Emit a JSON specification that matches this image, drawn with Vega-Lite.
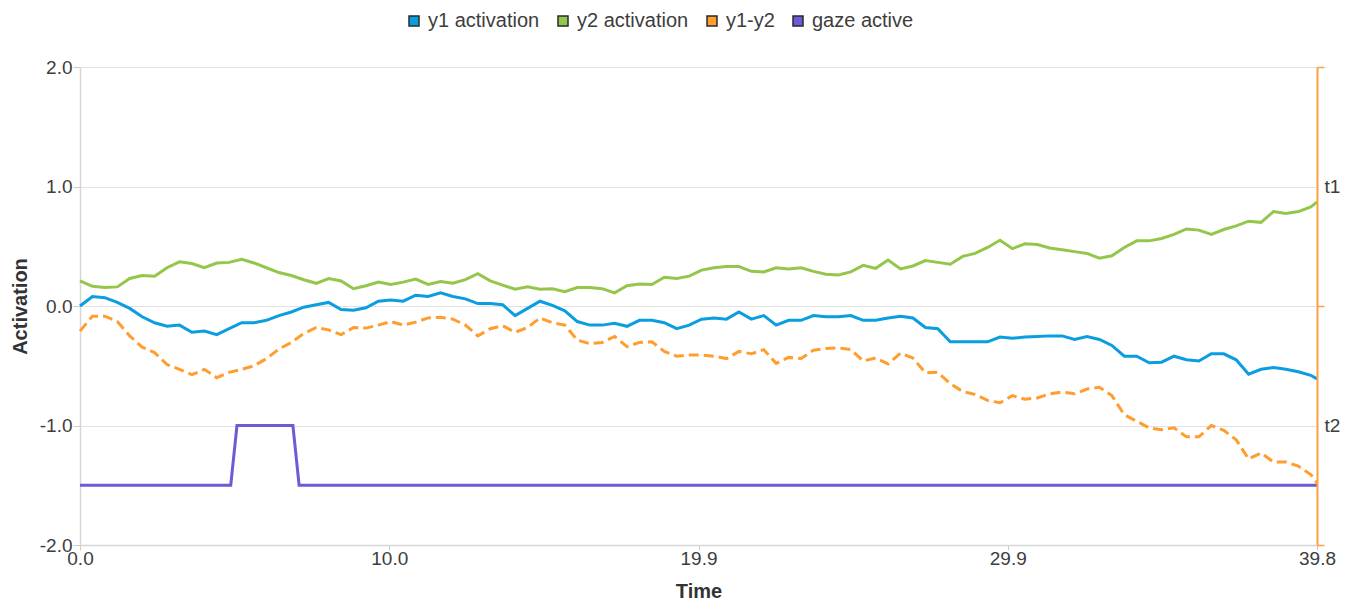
{
  "$schema": "https://vega.github.io/schema/vega-lite/v6.json",
  "width": 1237,
  "height": 478,
  "autosize": {"type": "none"},
  "padding": {"left": 80, "top": 67, "right": 41, "bottom": 61},
  "background": "white",
  "config": {
    "view": {"stroke": null},
    "font": "Liberation Sans",
    "axis": {
      "labelFont": "Liberation Sans",
      "labelFontSize": 19,
      "labelColor": "#3d3d3d",
      "titleFont": "Liberation Sans",
      "titleFontSize": 20,
      "titleFontWeight": "bold",
      "titleColor": "#333333",
      "domainColor": "#d6d6d6",
      "domainWidth": 1.5,
      "tickColor": "#cccccc",
      "gridColor": "#e2e2e2",
      "gridWidth": 1
    }
  },
  "datasets": {
    "act": [
      {"t":0,"y1 activation":0.0,"y2 activation":0.21,"y1-y2":-0.21},
      {"t":0.4,"y1 activation":0.08,"y2 activation":0.165,"y1-y2":-0.085},
      {"t":0.8,"y1 activation":0.07,"y2 activation":0.155,"y1-y2":-0.085},
      {"t":1.2,"y1 activation":0.03,"y2 activation":0.16,"y1-y2":-0.13},
      {"t":1.6,"y1 activation":-0.02,"y2 activation":0.23,"y1-y2":-0.25},
      {"t":2.0,"y1 activation":-0.09,"y2 activation":0.255,"y1-y2":-0.345},
      {"t":2.4,"y1 activation":-0.14,"y2 activation":0.25,"y1-y2":-0.39},
      {"t":2.8,"y1 activation":-0.17,"y2 activation":0.32,"y1-y2":-0.49},
      {"t":3.2,"y1 activation":-0.16,"y2 activation":0.37,"y1-y2":-0.53},
      {"t":3.6,"y1 activation":-0.22,"y2 activation":0.355,"y1-y2":-0.575},
      {"t":4.0,"y1 activation":-0.21,"y2 activation":0.32,"y1-y2":-0.53},
      {"t":4.4,"y1 activation":-0.24,"y2 activation":0.36,"y1-y2":-0.6},
      {"t":4.8,"y1 activation":-0.19,"y2 activation":0.365,"y1-y2":-0.555},
      {"t":5.2,"y1 activation":-0.14,"y2 activation":0.39,"y1-y2":-0.53},
      {"t":5.6,"y1 activation":-0.14,"y2 activation":0.36,"y1-y2":-0.5},
      {"t":6.0,"y1 activation":-0.12,"y2 activation":0.32,"y1-y2":-0.44},
      {"t":6.4,"y1 activation":-0.08,"y2 activation":0.28,"y1-y2":-0.36},
      {"t":6.8,"y1 activation":-0.05,"y2 activation":0.255,"y1-y2":-0.305},
      {"t":7.2,"y1 activation":-0.01,"y2 activation":0.22,"y1-y2":-0.23},
      {"t":7.6,"y1 activation":0.01,"y2 activation":0.19,"y1-y2":-0.18},
      {"t":8.0,"y1 activation":0.03,"y2 activation":0.23,"y1-y2":-0.2},
      {"t":8.4,"y1 activation":-0.03,"y2 activation":0.21,"y1-y2":-0.24},
      {"t":8.8,"y1 activation":-0.035,"y2 activation":0.145,"y1-y2":-0.18},
      {"t":9.2,"y1 activation":-0.015,"y2 activation":0.17,"y1-y2":-0.185},
      {"t":9.6,"y1 activation":0.04,"y2 activation":0.2,"y1-y2":-0.16},
      {"t":10.0,"y1 activation":0.05,"y2 activation":0.18,"y1-y2":-0.13},
      {"t":10.4,"y1 activation":0.04,"y2 activation":0.2,"y1-y2":-0.16},
      {"t":10.8,"y1 activation":0.09,"y2 activation":0.225,"y1-y2":-0.135},
      {"t":11.2,"y1 activation":0.08,"y2 activation":0.18,"y1-y2":-0.1},
      {"t":11.6,"y1 activation":0.11,"y2 activation":0.205,"y1-y2":-0.095},
      {"t":12.0,"y1 activation":0.08,"y2 activation":0.19,"y1-y2":-0.11},
      {"t":12.4,"y1 activation":0.06,"y2 activation":0.22,"y1-y2":-0.16},
      {"t":12.8,"y1 activation":0.02,"y2 activation":0.27,"y1-y2":-0.25},
      {"t":13.2,"y1 activation":0.02,"y2 activation":0.21,"y1-y2":-0.19},
      {"t":13.6,"y1 activation":0.01,"y2 activation":0.175,"y1-y2":-0.165},
      {"t":14.0,"y1 activation":-0.08,"y2 activation":0.14,"y1-y2":-0.22},
      {"t":14.4,"y1 activation":-0.02,"y2 activation":0.16,"y1-y2":-0.18},
      {"t":14.8,"y1 activation":0.04,"y2 activation":0.14,"y1-y2":-0.1},
      {"t":15.2,"y1 activation":0.005,"y2 activation":0.145,"y1-y2":-0.14},
      {"t":15.6,"y1 activation":-0.04,"y2 activation":0.12,"y1-y2":-0.16},
      {"t":16.0,"y1 activation":-0.13,"y2 activation":0.155,"y1-y2":-0.285},
      {"t":16.4,"y1 activation":-0.16,"y2 activation":0.155,"y1-y2":-0.315},
      {"t":16.8,"y1 activation":-0.16,"y2 activation":0.145,"y1-y2":-0.305},
      {"t":17.2,"y1 activation":-0.145,"y2 activation":0.11,"y1-y2":-0.255},
      {"t":17.6,"y1 activation":-0.17,"y2 activation":0.17,"y1-y2":-0.34},
      {"t":18.0,"y1 activation":-0.12,"y2 activation":0.185,"y1-y2":-0.305},
      {"t":18.4,"y1 activation":-0.12,"y2 activation":0.18,"y1-y2":-0.3},
      {"t":18.8,"y1 activation":-0.14,"y2 activation":0.24,"y1-y2":-0.38},
      {"t":19.2,"y1 activation":-0.19,"y2 activation":0.23,"y1-y2":-0.42},
      {"t":19.6,"y1 activation":-0.16,"y2 activation":0.25,"y1-y2":-0.41},
      {"t":20.0,"y1 activation":-0.11,"y2 activation":0.3,"y1-y2":-0.41},
      {"t":20.4,"y1 activation":-0.1,"y2 activation":0.32,"y1-y2":-0.42},
      {"t":20.8,"y1 activation":-0.11,"y2 activation":0.33,"y1-y2":-0.44},
      {"t":21.2,"y1 activation":-0.05,"y2 activation":0.33,"y1-y2":-0.38},
      {"t":21.6,"y1 activation":-0.11,"y2 activation":0.29,"y1-y2":-0.4},
      {"t":22.0,"y1 activation":-0.08,"y2 activation":0.285,"y1-y2":-0.365},
      {"t":22.4,"y1 activation":-0.16,"y2 activation":0.32,"y1-y2":-0.48},
      {"t":22.8,"y1 activation":-0.12,"y2 activation":0.31,"y1-y2":-0.43},
      {"t":23.2,"y1 activation":-0.12,"y2 activation":0.32,"y1-y2":-0.44},
      {"t":23.6,"y1 activation":-0.08,"y2 activation":0.29,"y1-y2":-0.37},
      {"t":24.0,"y1 activation":-0.09,"y2 activation":0.265,"y1-y2":-0.355},
      {"t":24.4,"y1 activation":-0.09,"y2 activation":0.26,"y1-y2":-0.35},
      {"t":24.8,"y1 activation":-0.08,"y2 activation":0.285,"y1-y2":-0.365},
      {"t":25.2,"y1 activation":-0.12,"y2 activation":0.34,"y1-y2":-0.46},
      {"t":25.6,"y1 activation":-0.12,"y2 activation":0.315,"y1-y2":-0.435},
      {"t":26.0,"y1 activation":-0.1,"y2 activation":0.385,"y1-y2":-0.485},
      {"t":26.4,"y1 activation":-0.085,"y2 activation":0.31,"y1-y2":-0.395},
      {"t":26.8,"y1 activation":-0.1,"y2 activation":0.335,"y1-y2":-0.435},
      {"t":27.2,"y1 activation":-0.18,"y2 activation":0.38,"y1-y2":-0.56},
      {"t":27.6,"y1 activation":-0.19,"y2 activation":0.365,"y1-y2":-0.555},
      {"t":28.0,"y1 activation":-0.3,"y2 activation":0.35,"y1-y2":-0.65},
      {"t":28.4,"y1 activation":-0.3,"y2 activation":0.415,"y1-y2":-0.715},
      {"t":28.8,"y1 activation":-0.3,"y2 activation":0.44,"y1-y2":-0.74},
      {"t":29.2,"y1 activation":-0.3,"y2 activation":0.49,"y1-y2":-0.79},
      {"t":29.6,"y1 activation":-0.26,"y2 activation":0.55,"y1-y2":-0.81},
      {"t":30.0,"y1 activation":-0.27,"y2 activation":0.48,"y1-y2":-0.75},
      {"t":30.4,"y1 activation":-0.26,"y2 activation":0.52,"y1-y2":-0.78},
      {"t":30.8,"y1 activation":-0.255,"y2 activation":0.515,"y1-y2":-0.77},
      {"t":31.2,"y1 activation":-0.25,"y2 activation":0.485,"y1-y2":-0.735},
      {"t":31.6,"y1 activation":-0.25,"y2 activation":0.47,"y1-y2":-0.72},
      {"t":32.0,"y1 activation":-0.28,"y2 activation":0.455,"y1-y2":-0.735},
      {"t":32.4,"y1 activation":-0.255,"y2 activation":0.44,"y1-y2":-0.695},
      {"t":32.8,"y1 activation":-0.28,"y2 activation":0.4,"y1-y2":-0.68},
      {"t":33.2,"y1 activation":-0.33,"y2 activation":0.42,"y1-y2":-0.75},
      {"t":33.6,"y1 activation":-0.42,"y2 activation":0.49,"y1-y2":-0.91},
      {"t":34.0,"y1 activation":-0.42,"y2 activation":0.545,"y1-y2":-0.965},
      {"t":34.4,"y1 activation":-0.475,"y2 activation":0.545,"y1-y2":-1.02},
      {"t":34.8,"y1 activation":-0.47,"y2 activation":0.565,"y1-y2":-1.035},
      {"t":35.2,"y1 activation":-0.42,"y2 activation":0.6,"y1-y2":-1.02},
      {"t":35.6,"y1 activation":-0.45,"y2 activation":0.645,"y1-y2":-1.095},
      {"t":36.0,"y1 activation":-0.46,"y2 activation":0.635,"y1-y2":-1.095},
      {"t":36.4,"y1 activation":-0.4,"y2 activation":0.6,"y1-y2":-1.0},
      {"t":36.8,"y1 activation":-0.4,"y2 activation":0.64,"y1-y2":-1.04},
      {"t":37.2,"y1 activation":-0.45,"y2 activation":0.67,"y1-y2":-1.12},
      {"t":37.6,"y1 activation":-0.57,"y2 activation":0.71,"y1-y2":-1.28},
      {"t":38.0,"y1 activation":-0.53,"y2 activation":0.7,"y1-y2":-1.23},
      {"t":38.4,"y1 activation":-0.515,"y2 activation":0.79,"y1-y2":-1.305},
      {"t":38.8,"y1 activation":-0.53,"y2 activation":0.775,"y1-y2":-1.305},
      {"t":39.2,"y1 activation":-0.55,"y2 activation":0.79,"y1-y2":-1.34},
      {"t":39.6,"y1 activation":-0.58,"y2 activation":0.83,"y1-y2":-1.41},
      {"t":39.8,"y1 activation":-0.61,"y2 activation":0.87,"y1-y2":-1.48}
    ],
    "gaze": [
      {"t":0,"series":"gaze active","v":-1.5},
      {"t":4.85,"series":"gaze active","v":-1.5},
      {"t":5.05,"series":"gaze active","v":-1.0},
      {"t":6.85,"series":"gaze active","v":-1.0},
      {"t":7.05,"series":"gaze active","v":-1.5},
      {"t":39.8,"series":"gaze active","v":-1.5}
    ],
    "bands": [
      {"lab":"t1"},
      {"lab":"t2"}
    ]
  },
  "layer": [
    {
      "layer": [
        {
          "data": {"name": "act"},
          "transform": [{"fold": ["y1 activation", "y2 activation"], "as": ["series", "v"]}],
          "mark": {"type": "line", "strokeWidth": 3},
          "encoding": {
            "x": {
              "field": "t", "type": "quantitative",
              "scale": {"domain": [0, 39.8], "nice": false, "zero": false},
              "axis": {"title": "Time", "values": [0, 9.951, 19.9, 29.85, 39.8], "format": ".1f", "grid": false, "labelFlush": false, "tickSize": 5, "labelPadding": -1, "titlePadding": 13}
            },
            "y": {
              "field": "v", "type": "quantitative",
              "scale": {"domain": [-2, 2], "nice": false, "zero": false},
              "axis": {"title": "Activation", "orient": "left", "values": [-2, -1, 0, 1, 2], "labelExpr": "datum.value < 0 ? '-' + format(-datum.value, '.1f') : format(datum.value, '.1f')", "grid": true, "tickSize": 7, "labelPadding": 1, "titlePadding": 9}
            },
            "stroke": {
              "field": "series", "type": "nominal",
              "scale": {"domain": ["gaze active", "y1 activation", "y1-y2", "y2 activation"], "range": ["#6b5bd6", "#0a9ddf", "#ff9d2e", "#93c64b"]},
              "legend": null
            }
          }
        },
        {
          "data": {"name": "act"},
          "transform": [{"fold": ["y1-y2"], "as": ["series", "v"]}],
          "mark": {"type": "line", "strokeWidth": 3, "strokeDash": [10, 5]},
          "encoding": {
            "x": {"field": "t", "type": "quantitative"},
            "y": {"field": "v", "type": "quantitative"},
            "stroke": {"field": "series", "type": "nominal", "legend": null}
          }
        },
        {
          "data": {"name": "gaze"},
          "mark": {"type": "line", "strokeWidth": 3},
          "encoding": {
            "x": {"field": "t", "type": "quantitative"},
            "y": {"field": "v", "type": "quantitative"},
            "stroke": {"field": "series", "type": "nominal", "legend": null}
          }
        },
        {
          "data": {"name": "gaze"},
          "mark": {"type": "square", "opacity": 0, "size": 100},
          "encoding": {
            "x": {"field": "t", "type": "quantitative"},
            "y": {"field": "v", "type": "quantitative"},
            "fill": {
              "field": "series", "type": "nominal",
              "scale": {"domain": ["y1 activation", "y2 activation", "y1-y2", "gaze active"], "range": ["#0a9ddf", "#93c64b", "#ff9d2e", "#6b5bd6"]},
              "legend": {
                "title": null,
                "orient": "none",
                "legendX": 324,
                "legendY": -56,
                "direction": "horizontal",
                "columns": 4,
                "padding": 0,
                "columnPadding": 13,
                "labelOffset": 4,
                "labelFont": "Liberation Sans",
                "labelFontSize": 20,
                "labelColor": "#3d3d3d",
                "symbolType": "square",
                "symbolSize": 100,
                "symbolOpacity": 1,
                "symbolStrokeColor": "#2a2a2a",
                "symbolStrokeWidth": 1.5
              }
            }
          }
        }
      ]
    },
    {
      "data": {"name": "bands"},
      "mark": {"type": "rect", "opacity": 0},
      "encoding": {
        "y": {
          "field": "lab", "type": "nominal",
          "scale": {"type": "band", "paddingInner": 0, "paddingOuter": 0, "domain": ["t1", "t2"]},
          "axis": {"orient": "right", "title": null, "tickBand": "extent", "grid": false, "domainColor": "#ffa040", "domainWidth": 2, "tickColor": "#ffa040", "tickWidth": 1.5, "tickSize": 7, "labelPadding": 0, "labelAngle": 0}
        }
      }
    }
  ],
  "resolve": {"scale": {"y": "independent"}, "axis": {"y": "independent"}}
}
